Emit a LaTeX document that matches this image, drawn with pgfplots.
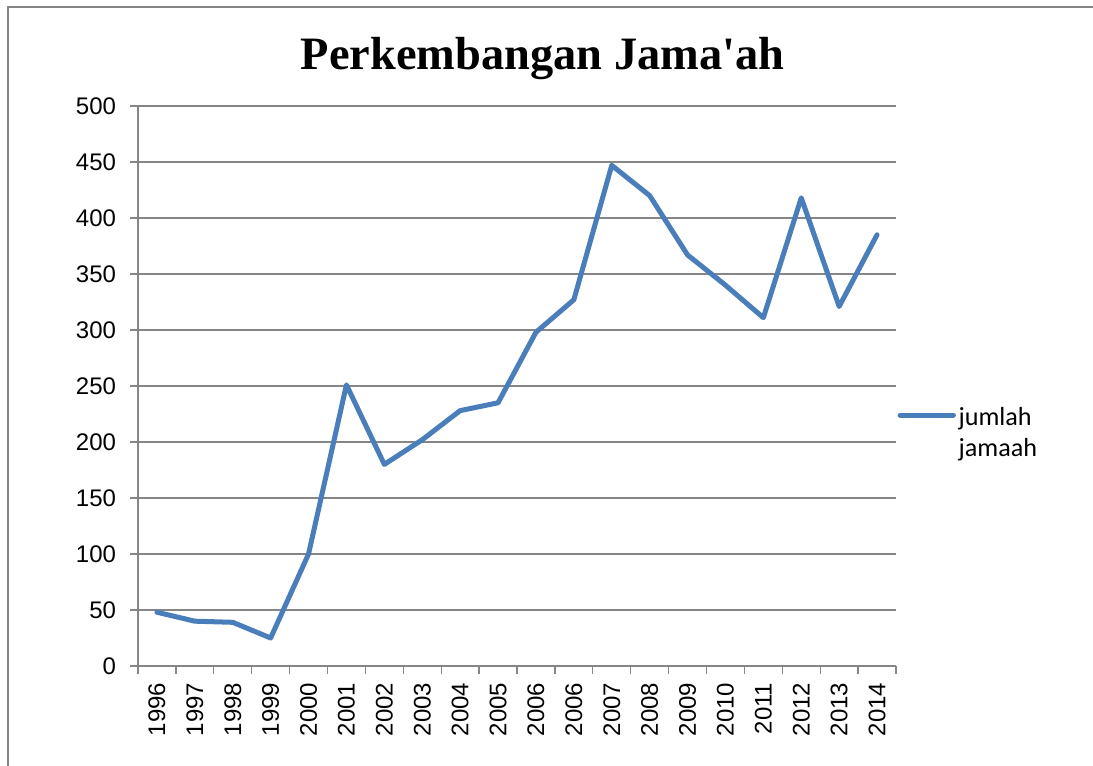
\documentclass[border=0pt]{standalone}
\usepackage{pgfplots}
\pgfplotsset{compat=1.18}
\usepackage{fontspec}
\setmainfont{Carlito}
\newfontfamily\titlefont{Liberation Serif}
\newfontfamily\tickfont{Liberation Sans}
\definecolor{lineblue}{HTML}{4A7EBB}
\definecolor{gridgray}{HTML}{868686}
\pgfplotstableread{
x y
0 48
1 40
2 39
3 25
4 100
5 251
6 180
7 202
8 228
9 235
10 298
11 327
12 447
13 420
14 367
15 340
16 311
17 418
18 321
19 385
}\datatable
\begin{document}
\begin{tikzpicture}
\useasboundingbox (0,0) rectangle (819.75pt,574.5pt);
\draw[gridgray, line width=0.9pt] (6pt,-5pt) -- (6pt,569.25pt) -- (825pt,569.25pt);
\node[anchor=base, font=\titlefont\bfseries\fontsize{34.8}{40}\selectfont] at (407pt,522pt) {Perkembangan Jama'ah};
\begin{axis}[
  at={(103.5pt,75pt)}, anchor=south west,
  scale only axis, width=568.5pt, height=420pt,
  xmin=-0.5, xmax=19.5, ymin=0, ymax=500,
  axis x line*=bottom, axis y line*=left,
  axis line style={gridgray, line width=1pt, -},
  xtick={0,...,19},
  xticklabels={1996,1997,1998,1999,2000,2001,2002,2003,2004,2005,2006,2006,2007,2008,2009,2010,2011,2012,2013,2014},
  minor xtick={-0.5,0.5,...,19.5},
  major x tick style={draw=none},
  minor x tick style={gridgray, line width=1pt},
  minor tick length=6pt,
  xtick align=outside, ytick align=outside,
  ytick={0,50,...,500},
  major tick length=6pt,
  y tick style={gridgray, line width=1pt},
  ymajorgrids,
  major grid style={gridgray, line width=1pt},
  tick label style={font=\tickfont\fontsize{18}{20}\selectfont},
  yticklabel style={/pgf/number format/assume math mode=true, xshift=-7pt},
  xticklabel style={yshift=-3pt, rotate=90, anchor=east},
  legend style={at={(1.0,0.416)}, anchor=west, xshift=-2pt, draw=none, fill=none,
    font=\fontsize{19.6}{23.3}\selectfont, nodes={align=left}},
  legend image code/.code={\draw[#1] (0pt,13.5pt) -- (40pt,13.5pt);},
  clip=false,
]
\addplot[lineblue, line width=3.75pt, line join=round, line cap=round] table[x=x,y=y] {\datatable};
\addlegendentry{jumlah\\jamaah}
\end{axis}
\end{tikzpicture}
\end{document}
